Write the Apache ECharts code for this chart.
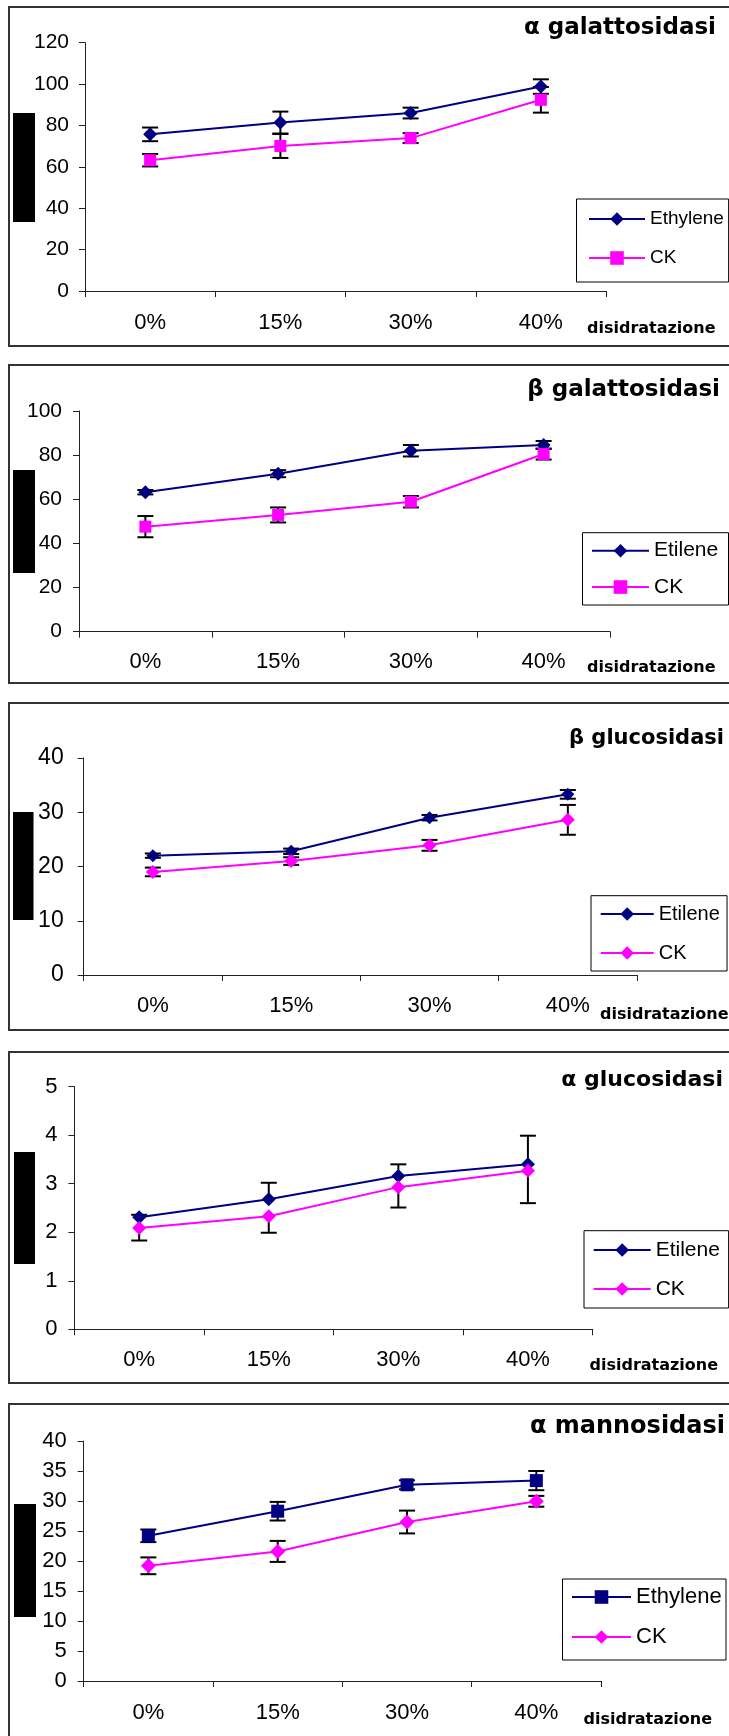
<!DOCTYPE html>
<html>
<head>
<meta charset="utf-8">
<script src="https://cdn.jsdelivr.net/npm/echarts@6/dist/echarts.min.js"></script>
<style>
  html, body { margin: 0; padding: 0; background: #ffffff; }
  #page { position: relative; width: 729px; height: 1736px; overflow: hidden; background: #ffffff; }
  .panel { position: absolute; left: 0; width: 729px; }
</style>
</head>
<body>
<div id="page"></div>
<script>
// Dehydration levels shared by every panel
const categories = ['0%', '15%', '30%', '40%'];

// α galattosidasi
const galAlphaEthylene    = [75.7, 81.4, 86.0, 98.8];
const galAlphaEthyleneErr = [3.3, 5.3, 2.6, 3.5];
const galAlphaCK          = [63.2, 70.1, 73.9, 92.4];
const galAlphaCKErr       = [3.0, 5.8, 2.4, 6.2];

// β galattosidasi
const galBetaEtilene    = [63.2, 71.6, 82.0, 84.6];
const galBetaEtileneErr = [1.0, 1.6, 2.6, 1.8];
const galBetaCK         = [47.6, 52.9, 58.9, 80.5];
const galBetaCKErr      = [4.8, 3.4, 2.6, 2.5];

// β glucosidasi
const gluBetaEtilene    = [22.0, 22.8, 29.0, 33.3];
const gluBetaEtileneErr = [0.4, 0.5, 0.5, 0.8];
const gluBetaCK         = [19.0, 21.0, 23.9, 28.6];
const gluBetaCKErr      = [0.8, 0.7, 1.0, 2.75];

// α glucosidasi
const gluAlphaEtilene    = [2.31, 2.68, 3.16, 3.40];
const gluAlphaEtileneErr = [0.05, 0.34, 0.24, 0.59];
const gluAlphaCK         = [2.09, 2.33, 2.93, 3.27];
const gluAlphaCKErr      = [0.26, 0.34, 0.42, 0.67];

// α mannosidasi
const manAlphaEthylene    = [24.2, 28.3, 32.7, 33.4];
const manAlphaEthyleneErr = [1.05, 1.55, 0.75, 1.6];
const manAlphaCK          = [19.2, 21.6, 26.5, 29.95];
const manAlphaCKErr       = [1.4, 1.75, 1.9, 0.9];

// Y-axis scales per panel
const yMax      = [120, 100, 40, 5, 40];
const yInterval = [20, 20, 10, 1, 5];

const FONT = '"Liberation Sans", Arial, sans-serif';
const TITLE_FONT = '"DejaVu Sans", "Liberation Sans", sans-serif';
const NAVY = '#000080';
const MAGENTA = '#FF00FF';
const AXIS_COLOR = '#222222';

const panels = [
  {
    bandTop: 0, bandHeight: 355,
    grid: { left: 85, top: 42.7, width: 521, height: 248.3 },
    yLabelSize: 21, yLabelMargin: 16, xLabelSize: 22, xLabelMargin: 21,
    title: 'α galattosidasi', titleX: 716, titleY: 28, titleSize: 23,
    axisNameX: 587, axisNameY: 329,
    legend: { left: 576.5, top: 199, padding: [10.5, 4.7, 14.5, 11.5], itemGap: 20, itemWidth: 56, fontSize: 19 },
    frame: { y: 7, h: 339 },
    block: { x: 13, y: 113, w: 22, h: 109 },
    series: [
      { name: 'Ethylene', values: galAlphaEthylene, errs: galAlphaEthyleneErr, dir: 'both', color: NAVY, symbol: 'diamond', size: [14, 14] },
      { name: 'CK', values: galAlphaCK, errs: galAlphaCKErr, dir: 'both', color: MAGENTA, symbol: 'rect', size: 12 }
    ]
  },
  {
    bandTop: 355, bandHeight: 338,
    grid: { left: 79, top: 56, width: 531, height: 220.7 },
    yLabelSize: 21, yLabelMargin: 17, xLabelSize: 22, xLabelMargin: 19,
    title: 'β galattosidasi', titleX: 720, titleY: 35, titleSize: 23,
    axisNameX: 587, axisNameY: 313,
    legend: { left: 582.5, top: 177.7, padding: [7.5, 10.3, 7.5, 8.5], itemGap: 15.3, itemWidth: 57, fontSize: 21 },
    frame: { y: 10, h: 318 },
    block: { x: 13, y: 115, w: 22, h: 103 },
    series: [
      { name: 'Etilene', values: galBetaEtilene, errs: galBetaEtileneErr, dir: 'both', color: NAVY, symbol: 'diamond', size: [14, 14] },
      { name: 'CK', values: galBetaCK, errs: galBetaCKErr, dir: 'both', color: MAGENTA, symbol: 'rect', size: 12 }
    ]
  },
  {
    bandTop: 693, bandHeight: 348,
    grid: { left: 83.7, top: 65, width: 553.3, height: 217 },
    yLabelSize: 23, yLabelMargin: 20, xLabelSize: 22, xLabelMargin: 20,
    title: 'β glucosidasi', titleX: 724, titleY: 46, titleSize: 21,
    axisNameX: 600, axisNameY: 322,
    legend: { left: 591, top: 202.7, padding: [8.3, 7.2, 8, 8.7], itemGap: 19, itemWidth: 53, fontSize: 20 },
    frame: { y: 10, h: 327 },
    block: { x: 13, y: 119, w: 20.5, h: 108 },
    series: [
      { name: 'Etilene', values: gluBetaEtilene, errs: gluBetaEtileneErr, dir: 'both', color: NAVY, symbol: 'diamond', size: [13, 13] },
      { name: 'CK', values: gluBetaCK, errs: gluBetaCKErr, dir: 'both', color: MAGENTA, symbol: 'diamond', size: [14, 14] }
    ]
  },
  {
    bandTop: 1041, bandHeight: 352,
    grid: { left: 74.4, top: 45.7, width: 518.3, height: 242.6 },
    yLabelSize: 22, yLabelMargin: 17, xLabelSize: 22, xLabelMargin: 20,
    title: 'α glucosidasi', titleX: 723, titleY: 39, titleSize: 22,
    axisNameX: 589.5, axisNameY: 325,
    legend: { left: 584, top: 189.7, padding: [8.8, 8.7, 8.5, 8.7], itemGap: 18, itemWidth: 57, fontSize: 21 },
    frame: { y: 11, h: 331 },
    block: { x: 14, y: 111, w: 21, h: 112 },
    series: [
      { name: 'Etilene', values: gluAlphaEtilene, errs: gluAlphaEtileneErr, dir: 'up', color: NAVY, symbol: 'diamond', size: [14, 14] },
      { name: 'CK', values: gluAlphaCK, errs: gluAlphaCKErr, dir: 'down', color: MAGENTA, symbol: 'diamond', size: [14, 14] }
    ]
  },
  {
    bandTop: 1393, bandHeight: 343,
    grid: { left: 83.7, top: 48, width: 517.3, height: 240 },
    yLabelSize: 22, yLabelMargin: 17, xLabelSize: 22, xLabelMargin: 21,
    title: 'α mannosidasi', titleX: 725, titleY: 34, titleSize: 24,
    axisNameX: 583.5, axisNameY: 327,
    legend: { left: 562.5, top: 186, padding: [7, 4.4, 12, 8.5], itemGap: 18, itemWidth: 59, fontSize: 22 },
    frame: { y: 11, h: 352 },
    block: { x: 14, y: 111, w: 22, h: 113 },
    series: [
      { name: 'Ethylene', values: manAlphaEthylene, errs: manAlphaEthyleneErr, dir: 'both', color: NAVY, symbol: 'rect', size: 13 },
      { name: 'CK', values: manAlphaCK, errs: manAlphaCKErr, dir: 'both', color: MAGENTA, symbol: 'diamond', size: [15, 15] }
    ]
  }
];

// Each error bar item: [categoryIndex, mean, low, high]
function errorData(values, errs, dir) {
  return values.map((v, i) => [
    i,
    v,
    dir === 'up' ? v : v - errs[i],
    dir === 'down' ? v : v + errs[i]
  ]);
}

function errorBarSeries(values, errs, dir) {
  const capHalf = 8;
  return {
    type: 'custom',
    silent: true,
    animation: false,
    z: 1,
    data: errorData(values, errs, dir),
    encode: { x: 0, y: [2, 3] },
    renderItem(params, api) {
      const idx = api.value(0);
      const mean = api.value(1);
      const lo = api.value(2);
      const hi = api.value(3);
      const pLo = api.coord([idx, lo]);
      const pHi = api.coord([idx, hi]);
      const style = { stroke: '#000000', lineWidth: 2 };
      const children = [
        { type: 'line', shape: { x1: pLo[0], y1: pLo[1], x2: pHi[0], y2: pHi[1] }, style }
      ];
      if (lo < mean) {
        children.push({ type: 'line', shape: { x1: pLo[0] - capHalf, y1: pLo[1], x2: pLo[0] + capHalf, y2: pLo[1] }, style });
      }
      if (hi > mean) {
        children.push({ type: 'line', shape: { x1: pHi[0] - capHalf, y1: pHi[1], x2: pHi[0] + capHalf, y2: pHi[1] }, style });
      }
      return { type: 'group', children };
    }
  };
}

function lineSeries(s) {
  return {
    type: 'line',
    name: s.name,
    data: s.values,
    symbol: s.symbol,
    symbolSize: s.size,
    showSymbol: true,
    animation: false,
    z: 3,
    lineStyle: { color: s.color, width: 2 },
    itemStyle: { color: s.color, borderWidth: 0 },
    emphasis: { disabled: true }
  };
}

const page = document.getElementById('page');

panels.forEach((p, k) => {
  const el = document.createElement('div');
  el.className = 'panel';
  el.style.top = p.bandTop + 'px';
  el.style.height = p.bandHeight + 'px';
  page.appendChild(el);

  const chart = echarts.init(el, null, { renderer: 'canvas', width: 729, height: p.bandHeight });

  const seriesList = [];
  p.series.forEach(s => seriesList.push(errorBarSeries(s.values, s.errs, s.dir)));
  p.series.forEach(s => seriesList.push(lineSeries(s)));

  chart.setOption({
    animation: false,
    backgroundColor: 'transparent',
    grid: p.grid,
    xAxis: {
      type: 'category',
      data: categories,
      boundaryGap: true,
      axisLine: { show: true, lineStyle: { color: AXIS_COLOR, width: 1 } },
      axisTick: { show: true, length: 6, alignWithLabel: false, lineStyle: { color: AXIS_COLOR, width: 1 } },
      axisLabel: { color: '#000000', fontFamily: FONT, fontSize: p.xLabelSize, margin: p.xLabelMargin },
      splitLine: { show: false }
    },
    yAxis: {
      type: 'value',
      min: 0,
      max: yMax[k],
      interval: yInterval[k],
      axisLine: { show: true, lineStyle: { color: AXIS_COLOR, width: 1 } },
      axisTick: { show: true, length: 6, lineStyle: { color: AXIS_COLOR, width: 1 } },
      axisLabel: { color: '#000000', fontFamily: FONT, fontSize: p.yLabelSize, margin: p.yLabelMargin },
      splitLine: { show: false }
    },
    legend: {
      orient: 'vertical',
      left: p.legend.left,
      top: p.legend.top,
      padding: p.legend.padding,
      itemGap: p.legend.itemGap,
      itemWidth: p.legend.itemWidth,
      itemHeight: 17,
      borderColor: '#000000',
      borderWidth: 1,
      backgroundColor: '#ffffff',
      selectedMode: false,
      textStyle: { color: '#000000', fontFamily: FONT, fontSize: p.legend.fontSize, lineHeight: p.legend.fontSize },
      data: p.series.map(s => s.name)
    },
    graphic: [
      {
        type: 'rect', silent: true, z: 0,
        shape: { x: 9, y: p.frame.y, width: 740, height: p.frame.h },
        style: { fill: 'none', stroke: '#333333', lineWidth: 2 }
      },
      {
        type: 'rect', silent: true, z: 5,
        shape: { x: p.block.x, y: p.block.y, width: p.block.w, height: p.block.h },
        style: { fill: '#000000' }
      },
      {
        type: 'text', silent: true, z: 5,
        x: p.titleX, y: p.titleY,
        style: {
          text: p.title, fill: '#000000',
          font: 'bold ' + p.titleSize + 'px ' + TITLE_FONT,
          align: 'right', verticalAlign: 'middle'
        }
      },
      {
        type: 'text', silent: true, z: 5,
        x: p.axisNameX, y: p.axisNameY,
        style: {
          text: 'disidratazione', fill: '#000000',
          font: 'bold 16px ' + TITLE_FONT,
          align: 'left', verticalAlign: 'middle'
        }
      }
    ],
    series: seriesList
  });
});
</script>
</body>
</html>
